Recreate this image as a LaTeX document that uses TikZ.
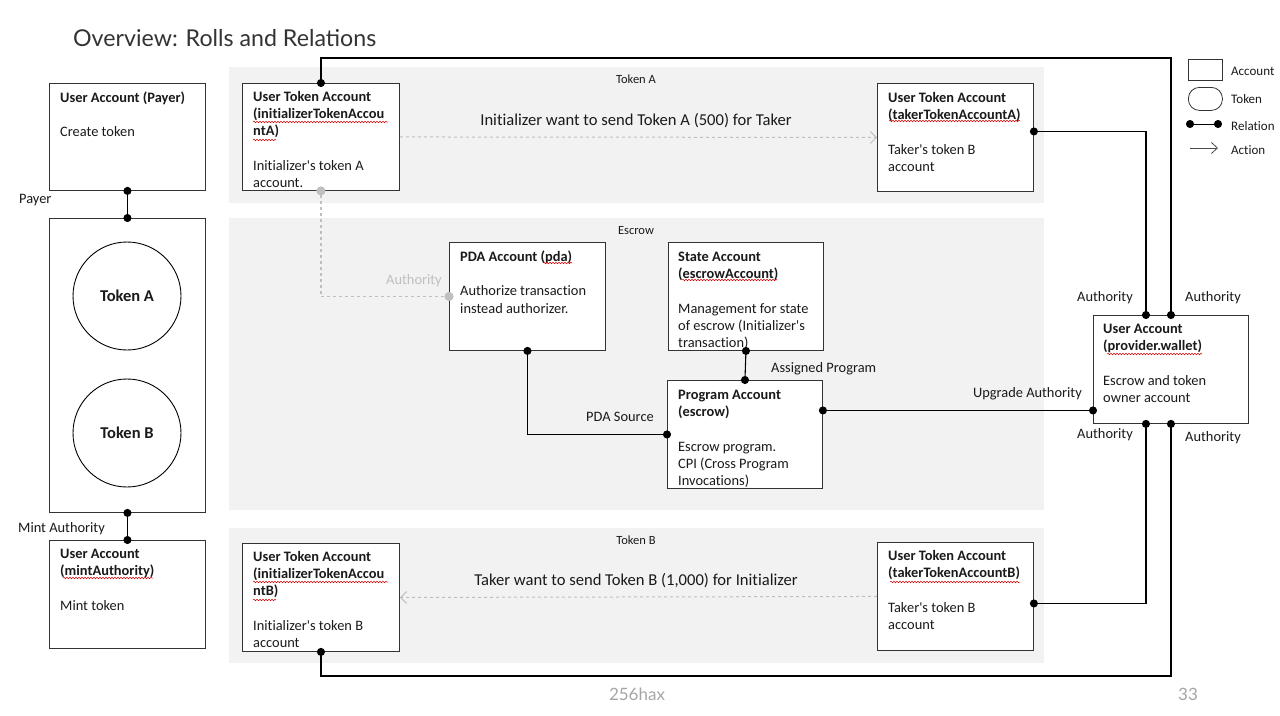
\documentclass[tikz,border=0pt]{standalone}
\usepackage{fontspec}
\setmainfont{Carlito}[Ligatures=NoCommon]
\newfontfamily\titlefont{Lato}
\usetikzlibrary{arrows.meta,decorations.pathmorphing}
\definecolor{panelgray}{HTML}{F2F2F2}
\definecolor{dashgray}{HTML}{BFBFBF}
\definecolor{ink}{HTML}{1A1A1A}
\definecolor{footgray}{HTML}{A6A6A6}
\newcommand{\apo}{\textquotesingle}
\begin{document}
\begin{tikzpicture}[x=1pt,y=-1pt,
  panel/.style={fill=panelgray,draw=none},
  acct/.style={rectangle,draw=black!80,line width=0.9pt,fill=white,inner sep=0pt,anchor=north west},
  txt/.style={font=\fontsize{14.4}{17.3}\selectfont,text=ink,align=left,anchor=north west,inner sep=0pt},
  lbl/.style={font=\fontsize{14.4}{16}\selectfont,text=ink,inner sep=0pt},
  plabel/.style={font=\fontsize{12.5}{14}\selectfont,text=ink,inner sep=0pt},
  leglabel/.style={font=\fontsize{13}{14}\selectfont,text=ink,inner sep=0pt,anchor=west},
  rel/.style={line width=1.1pt,black,{Circle[length=8pt]}-{Circle[length=8pt]},shorten <=-4pt,shorten >=-4pt},
  relgray/.style={line width=1.1pt,dashgray,dashed,{Circle[length=9pt]}-{Circle[length=9pt]},shorten <=-4.5pt,shorten >=-4.5pt},
  action/.style={line width=1pt,dashgray,dashed,-{Straight Barb[length=6pt,width=12pt]}},
  big/.style={font=\fontsize{16.6}{19}\selectfont,text=ink,inner sep=0pt},
  tok/.style={circle,draw=black,line width=0.9pt,fill=white,minimum size=108pt,inner sep=0pt,font=\bfseries\fontsize{16.5}{18}\selectfont,text=ink},
  squig/.style={red!85!black,line width=0.5pt,decorate,decoration={snake,amplitude=0.8pt,segment length=3pt}}
]
\useasboundingbox (0,0) rectangle (1280,715);
\fill[white] (0,0) rectangle (1280,715);

% title
\node[font=\titlefont\fontsize{23.2}{26}\selectfont,text=black!80,anchor=west,inner sep=0pt] (title) at (73,38) {Overview: Rolls and Relations};

% panels
\fill[panel] (229,67) rectangle (1044,203);
\fill[panel] (229,218) rectangle (1044,510);
\fill[panel] (229,528) rectangle (1044,663);
\node[plabel] (plA) at (636,79) {Token A};
\node[plabel] (plE) at (636,231) {Escrow};
\node[plabel] (plB) at (636,540) {Token B};

% boxes
\node[acct,minimum width=156pt,minimum height=107pt] (payer) at (49,83) {};
\node[txt] (payerT) at (60,90) {\strut\textbf{User Account (Payer)}\\[17.3pt]Create token};

\node[acct,minimum width=156pt,minimum height=294pt] (tokens) at (49,218) {};
\node[tok] (tokA) at (127,296) {Token A};
\node[tok] (tokB) at (127,433) {Token B};

\node[acct,minimum width=156pt,minimum height=108pt] (mint) at (49,540) {};
\node[txt] (mintT) at (60,546) {\strut\textbf{User Account}\\\textbf{(mintAuthority)}\\[17.3pt]Mint token};

\node[acct,minimum width=157pt,minimum height=107pt] (initA) at (242,83) {};
\node[txt] (initAT) at (253,89) {\strut\textbf{User Token Account}\\\textbf{(initializerTokenAccou}\\\textbf{ntA)}\\[17.3pt]Initializer\apo s token A\\account.};

\node[acct,minimum width=156pt,minimum height=108pt] (takerA) at (877,83) {};
\node[txt] (takerAT) at (888,90) {\strut\textbf{User Token Account}\\\textbf{(takerTokenAccountA)}\\[17.3pt]Taker\apo s token B\\account};

\node[acct,minimum width=156pt,minimum height=108pt] (pda) at (449,242) {};
\node[txt] (pdaT) at (460,249) {\strut\textbf{PDA Account (pda)}\\[17.3pt]Authorize transaction\\instead authorizer.};

\node[acct,minimum width=155pt,minimum height=108pt] (state) at (668,242) {};
\node[txt] (stateT) at (678,249) {\strut\textbf{State Account}\\\textbf{(escrowAccount)}\\[17.3pt]Management for state\\of escrow (Initializer\apo s\\transaction)};

\node[acct,minimum width=155pt,minimum height=108pt] (program) at (667,380) {};
\node[txt] (programT) at (678,387) {\strut\textbf{Program Account}\\\textbf{(escrow)}\\[17.3pt]Escrow program.\\CPI (Cross Program\\Invocations)};

\node[acct,minimum width=155pt,minimum height=108pt] (wallet) at (1093,315) {};
\node[txt] (walletT) at (1103,321) {\strut\textbf{User Account}\\\textbf{(provider.wallet)}\\[17.3pt]Escrow and token\\owner account};

\node[acct,minimum width=157pt,minimum height=108pt] (initB) at (242,543) {};
\node[txt] (initBT) at (253,549) {\strut\textbf{User Token Account}\\\textbf{(initializerTokenAccou}\\\textbf{ntB)}\\[17.3pt]Initializer\apo s token B\\account};

\node[acct,minimum width=156pt,minimum height=108pt] (takerB) at (877,542) {};
\node[txt] (takerBT) at (888,548) {\strut\textbf{User Token Account}\\\textbf{(takerTokenAccountB)}\\[17.3pt]Taker\apo s token B\\account};

% spell-check squiggles
\draw[squig] (253,122) -- (388,122);
\draw[squig] (253,140) -- (276,140);
\draw[squig] (889,121) -- (1020,121);
\draw[squig] (543,263) -- (572,263);
\draw[squig] (682,280) -- (777,280);
\draw[squig] (1107,354) -- (1202,354);
\draw[squig] (63,578) -- (153,578);
\draw[squig] (253,582) -- (388,582);
\draw[squig] (253,600) -- (276,600);
\draw[squig] (890,582) -- (1020,582);

% helper coordinates
\coordinate (topY) at (0,58);
\coordinate (botY) at (0,676);

% relations
\draw[rel] (payer.south) -- (tokens.north);
\draw[rel] (tokens.south) -- (mint.north);
\node[lbl,anchor=west] (lPayer) at (19,200) {Payer};
\node[lbl,anchor=west] (lMint) at (18,529) {Mint Authority};

\draw[rel] (initA.north) -- (initA.north |- topY) -| (wallet.north);
\draw[rel] ([yshift=6pt]takerA.east) -| ([xshift=-25pt]wallet.north);
\node[lbl] (la1) at (1105,298) {Authority};
\node[lbl] (la2) at (1213,298) {Authority};

\draw[rel] ([yshift=24pt]program.east) -- ([yshift=24pt]program.east -| wallet.west);
\node[lbl,anchor=east] (lUp) at (1082,394) {Upgrade Authority};

\draw[rel] ([yshift=-7pt]takerB.east) -| ([xshift=-25pt]wallet.south);
\draw[rel] (initB.south) -- (initB.south |- botY) -| (wallet.south);
\node[lbl] (la3) at (1105,435) {Authority};
\node[lbl] (la4) at (1213,438) {Authority};

\draw[rel] (pda.south) |- (program.west);
\node[lbl] (lPda) at (620,417) {PDA Source};

\draw[rel] (state.south) -- (program.north);
\node[lbl,anchor=west] (lAssign) at (771,369) {Assigned Program};

\draw[relgray] (initA.south) |- (pda.west);
\node[lbl,text=dashgray] (lAuthG) at (414,281) {Authority};

% actions
\draw[action] (initA.east) -- (takerA.west);
\node[big] (actA) at (636,121) {Initializer want to send Token A (500) for Taker};
\draw[action] (takerB.west) -- (initB.east);
\node[big] (actB) at (636,581) {Taker want to send Token B (1,000) for Initializer};

% legend
\node[acct,minimum width=34pt,minimum height=21pt,line width=0.8pt] (legAcct) at (1188,59) {};
\node[leglabel] (legAcctT) at (1231,71) {Account};
\node[acct,minimum width=34pt,minimum height=23pt,rounded corners=11pt,line width=0.8pt] (legTok) at (1188,87) {};
\node[leglabel] (legTokT) at (1231,99) {Token};
\coordinate (lr1) at (1190,124);
\coordinate (lr2) at (1218,124);
\draw[rel,line width=0.9pt] (lr1) -- (lr2);
\node[leglabel] (legRelT) at (1231,126) {Relation};
\coordinate (la1p) at (1190,148);
\coordinate (la2p) at (1218,148);
\draw[line width=0.8pt,black!70,-{Straight Barb[length=6pt,width=11pt]}] (la1p) -- (la2p);
\node[leglabel] (legActT) at (1231,150) {Action};

% footer
\node[font=\titlefont\fontsize{17}{19}\selectfont,text=footgray,inner sep=0pt] (foot) at (637,694) {256hax};
\node[font=\titlefont\fontsize{17}{19}\selectfont,text=footgray,inner sep=0pt] (page) at (1188,694) {33};
\end{tikzpicture}
\end{document}
